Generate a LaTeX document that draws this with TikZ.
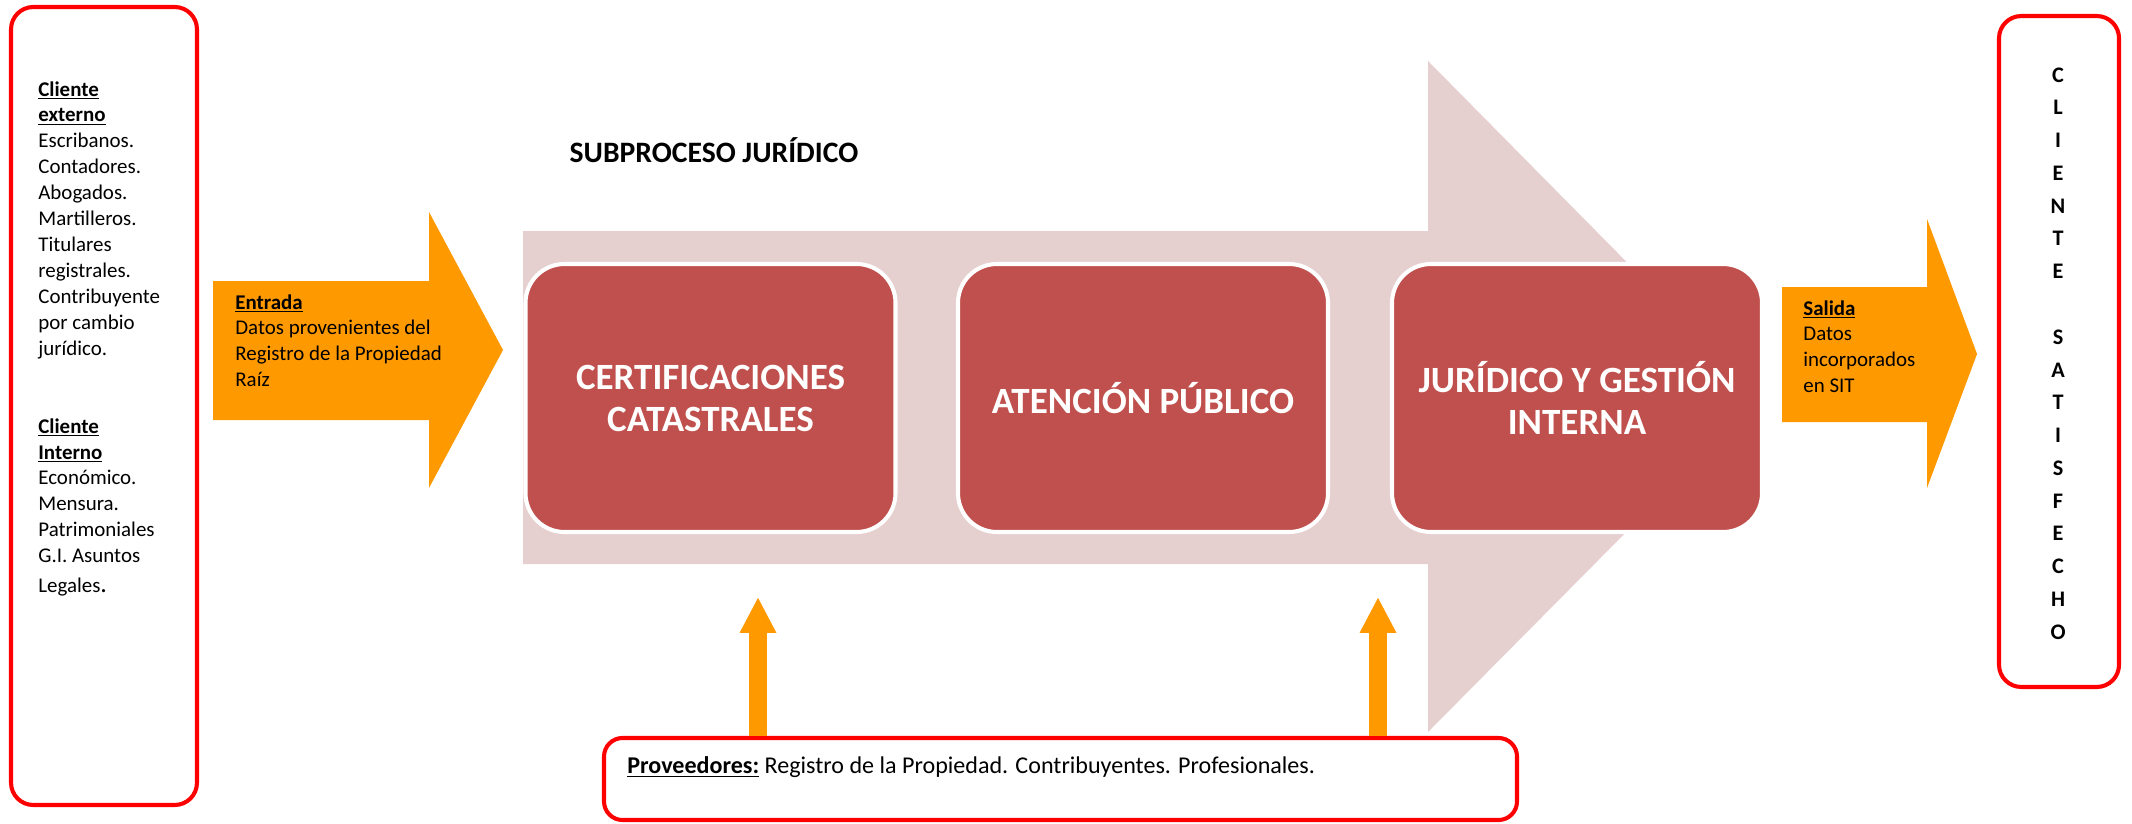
\documentclass[tikz,border=0pt]{standalone}
\usepackage{fontspec}
\setmainfont{Carlito}
\usepackage{xcolor}
\usepackage{tikz}
\usetikzlibrary{arrows.meta}
\usetikzlibrary{calc}
\definecolor{naranja}{RGB}{255,153,0}
\definecolor{rojoetapa}{RGB}{192,80,77}
\definecolor{rosa}{RGB}{230,207,207}

\begin{document}
\begin{tikzpicture}[x=0.54pt, y=-0.54pt,
    marco/.style={draw=red, line width=2.2pt, rounded corners=12pt, inner sep=0pt},
    etapa/.style={rectangle, draw=white, fill=rojoetapa, line width=2.2pt, rounded corners=21pt,
      minimum width=199.8pt, minimum height=144.7pt, text=white, align=center,
      font=\fontsize{20}{22.7}\selectfont\bfseries},
    texto/.style={anchor=north west, inner sep=0pt, align=left, font=\fontsize{11.3}{14}\selectfont},
    subir/.style={naranja, line width=9.7pt, -{Triangle[length=19.4pt, width=18.4pt]}}]
  \useasboundingbox (0,0) rectangle (2132,824);
  \fill[rosa] (523,231) -- (1428,231) -- (1428,61) -- (1760,397) -- (1428,732) -- (1428,564) -- (523,564) -- cycle;
  \fill[naranja] (213,281) -- (429,281) -- (429,212) -- (503,350) -- (429,488) -- (429,420) -- (213,420) -- cycle;
  \fill[naranja] (1782,287) -- (1927,287) -- (1927,219) -- (1977,354) -- (1927,488) -- (1927,422) -- (1782,422) -- cycle;
  \node[font=\fontsize{16}{19}\selectfont\bfseries] (titulo) at (714,150) {SUBPROCESO JURÍDICO};
  \node[etapa] (certif) at (710.5,398) {CERTIFICACIONES\\CATASTRALES};
  \node[etapa] (atencion) at (1143,398) {ATENCIÓN PÚBLICO};
  \node[etapa] (juridico) at (1577,398) {JURÍDICO Y GESTIÓN\\INTERNA};
  \node[marco, minimum width=100.4pt, minimum height=430.9pt] (clientes) at (104,406) {};
  \node[texto] (clientestxt) at (38,81) {\underline{\textbf{Cliente}}\\\underline{\textbf{externo}}\\Escribanos.\\Contadores.\\Abogados.\\Martilleros.\\Titulares\\registrales.\\Contribuyente\\por cambio\\jurídico.\\~\\~\\\underline{\textbf{Cliente}}\\\underline{\textbf{Interno}}\\Económico.\\Mensura.\\Patrimoniales\\G.I. Asuntos\\[2pt]Legales{\fontsize{14}{14}\selectfont .}};
  \node[texto] (entrada) at (235,294) {\underline{\textbf{Entrada}}\\Datos provenientes del\\Registro de la Propiedad\\Raíz};
  \node[texto] (salida) at (1803,300) {\underline{\textbf{Salida}}\\Datos\\incorporados\\en SIT};
  \node[marco, minimum width=64.8pt, minimum height=362.3pt] (satisfecho) at (2059,351.5) {};
  \node[align=center, font=\fontsize{12}{17.7}\selectfont\bfseries] (satisfechotxt) at (2058,353.5) {C\\L\\I\\E\\N\\T\\E\\~\\S\\A\\T\\I\\S\\F\\E\\C\\H\\O};
  \coordinate (tipA) at (758,597);
  \coordinate (tipB) at (1378,597);
  \node[marco, rounded corners=10pt, minimum width=493pt, minimum height=44.3pt] (prov) at (1060.5,779) {};
  \draw[subir] (tipA |- prov.north) -- (tipA);
  \draw[subir] (tipB |- prov.north) -- (tipB);
  \node[texto, anchor=west, font=\fontsize{13}{15}\selectfont] (provtxt) at (627,767) {\underline{\textbf{Proveedores:}} Registro de la Propiedad. Contribuyentes. Profesionales.};
\end{tikzpicture}
\end{document}
